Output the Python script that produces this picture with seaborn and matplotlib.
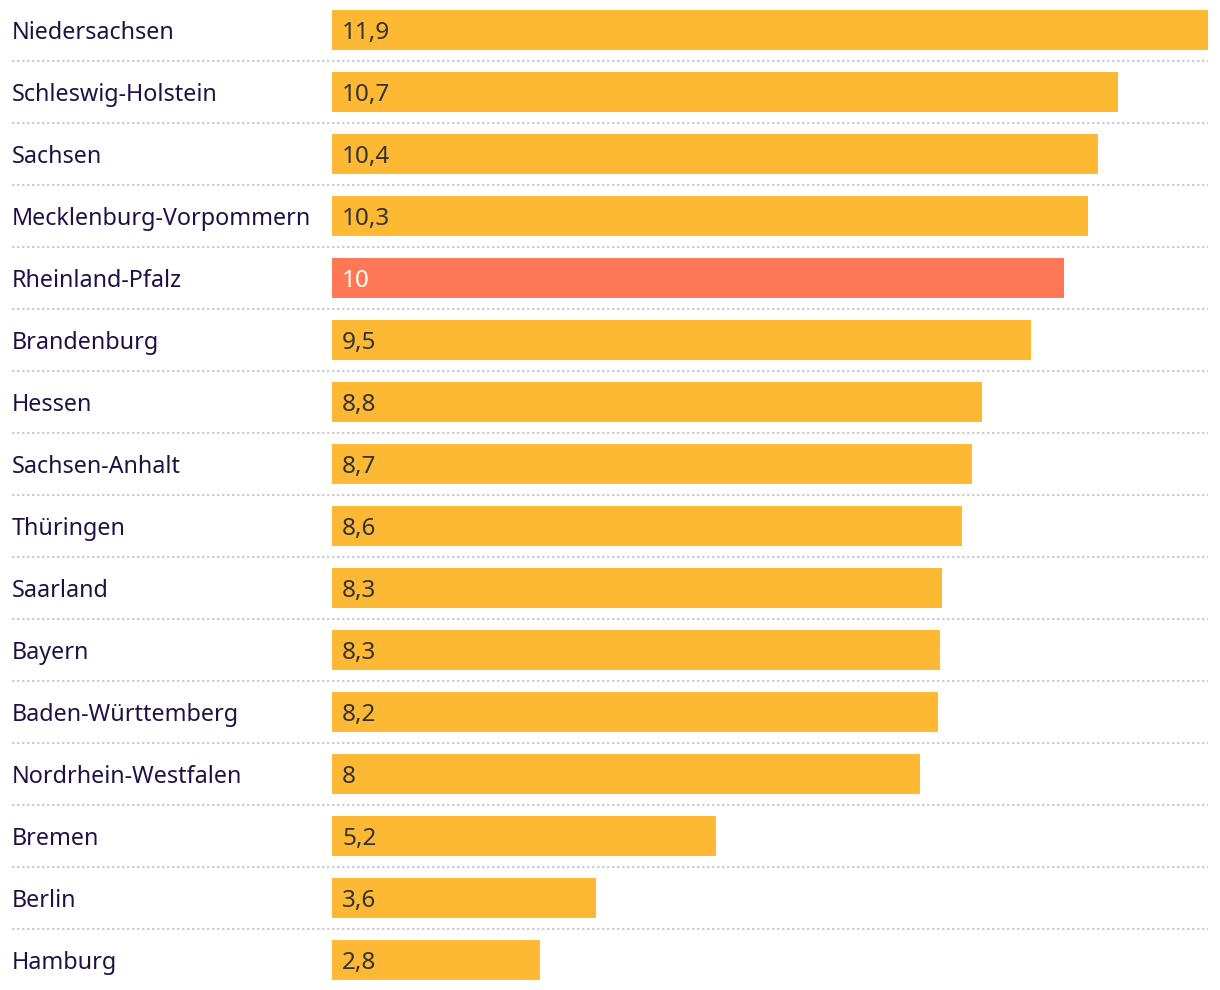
import matplotlib
matplotlib.use("Agg")
import matplotlib.pyplot as plt
import matplotlib.transforms as mtransforms
import seaborn as sns
import pandas as pd

states = ["Niedersachsen", "Schleswig-Holstein", "Sachsen", "Mecklenburg-Vorpommern",
          "Rheinland-Pfalz", "Brandenburg", "Hessen", "Sachsen-Anhalt", "Thüringen",
          "Saarland", "Bayern", "Baden-Württemberg", "Nordrhein-Westfalen", "Bremen",
          "Berlin", "Hamburg"]
values = [11.9, 10.68, 10.41, 10.27, 9.95, 9.49, 8.83, 8.69, 8.56, 8.29, 8.26, 8.23,
          7.99, 5.22, 3.59, 2.83]
value_labels = ["11,9", "10,7", "10,4", "10,3", "10", "9,5", "8,8", "8,7", "8,6", "8,3",
                "8,3", "8,2", "8", "5,2", "3,6", "2,8"]
highlight = "Rheinland-Pfalz"

YELLOW = "#FDB933"
RED = "#FF7855"

sns.set_theme(style="white")
plt.rcParams["font.family"] = ["Noto Sans", "DejaVu Sans"]

W, H = 1220, 990
fig = plt.figure(figsize=(W / 100, H / 100), dpi=100)
ax = fig.add_axes([332 / W, 0, (1208 - 332) / W, 1])

df = pd.DataFrame({"state": states, "value": values})
palette = {s: (RED if s == highlight else YELLOW) for s in states}
sns.barplot(data=df, y="state", x="value", hue="state", palette=palette,
            orient="h", width=40 / 62, legend=False, ax=ax, saturation=1,
            linewidth=0)

n = len(states)
ax.set_xlim(0, 11.9)
ax.set_ylim(n - 1 + 30 / 62, -30 / 62)
ax.axis("off")

# row labels and value labels
lab_tr = mtransforms.blended_transform_factory(fig.transFigure, ax.transData)
for i, (s, lab) in enumerate(zip(states, value_labels)):
    ax.text(12 / W, i, s, transform=lab_tr, ha="left", va="center_baseline",
            fontsize=16.8, color="#1E1245")
    ax.text(10 / 73.6, i, lab, ha="left", va="center_baseline", fontsize=17.5,
            color="white" if s == highlight else "#333333")

# dotted separators
for i in range(n - 1):
    ax.plot([12 / W, 1208 / W], [i + 0.5, i + 0.5], transform=lab_tr,
            color="#D0D0D0", lw=1.5, linestyle=(0, (1.2, 1.2)), clip_on=False,
            solid_capstyle="butt", dash_capstyle="butt")

fig.savefig("out.png", dpi=100, facecolor="white")
